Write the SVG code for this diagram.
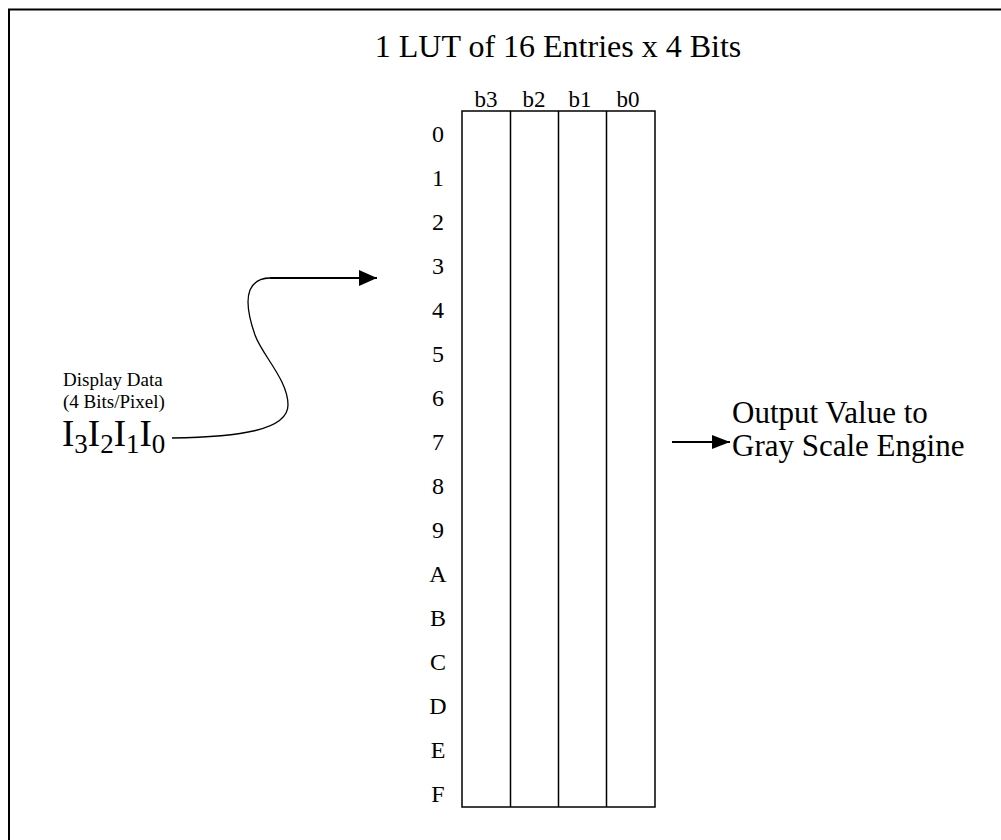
<svg xmlns="http://www.w3.org/2000/svg" width="1001" height="840" viewBox="0 0 1001 840">
<style>
text{font-family:"Liberation Serif","Times New Roman",serif;fill:#000}
.t{font-size:32px}
.o{font-size:31px}
.h{font-size:23px}
.r{font-size:24px;text-anchor:middle}
.s{font-size:19px}
.big{font-size:37px}
.cell{fill:none;stroke:#000;stroke-width:1.5}
.ln{fill:none;stroke:#000}
</style>
<defs>
<marker id="ah" markerWidth="18" markerHeight="16" refX="18" refY="8" orient="auto" markerUnits="userSpaceOnUse" viewBox="0 0 18 16">
<path d="M0,0 L18,8 L0,16 Z" fill="#000"/>
</marker>
<marker id="ah2" markerWidth="18" markerHeight="14" refX="18" refY="7" orient="auto" markerUnits="userSpaceOnUse" viewBox="0 0 18 14">
<path d="M0,0 L18,7 L0,14 Z" fill="#000"/>
</marker>
</defs>
<rect width="1001" height="840" fill="#fff"/>
<path d="M9,840 L9,9.5 L1001,9.5" fill="none" stroke="#000" stroke-width="2"/>
<g id="title"><text class="t" x="558" y="57" text-anchor="middle">1 LUT of 16 Entries x 4 Bits</text></g>
<g id="lut">
<rect class="cell" x="462" y="111" width="193" height="696"/>
<line class="cell" x1="510.5" y1="111" x2="510.5" y2="807"/>
<line class="cell" x1="558.5" y1="111" x2="558.5" y2="807"/>
<line class="cell" x1="606.5" y1="111" x2="606.5" y2="807"/>
<text class="h" x="486" y="107" text-anchor="middle">b3</text>
<text class="h" x="534" y="107" text-anchor="middle">b2</text>
<text class="h" x="580" y="107" text-anchor="middle">b1</text>
<text class="h" x="628" y="107" text-anchor="middle">b0</text>
<text class="r" x="438" y="142">0</text>
<text class="r" x="438" y="186">1</text>
<text class="r" x="438" y="230">2</text>
<text class="r" x="438" y="274">3</text>
<text class="r" x="438" y="318">4</text>
<text class="r" x="438" y="362">5</text>
<text class="r" x="438" y="406">6</text>
<text class="r" x="438" y="450">7</text>
<text class="r" x="438" y="494">8</text>
<text class="r" x="438" y="538">9</text>
<text class="r" x="438" y="582">A</text>
<text class="r" x="438" y="626">B</text>
<text class="r" x="438" y="670">C</text>
<text class="r" x="438" y="714">D</text>
<text class="r" x="438" y="758">E</text>
<text class="r" x="438" y="802">F</text>
</g>
<g id="input">
<text class="s" x="63" y="386">Display Data</text>
<text class="s" x="63" y="408">(4 Bits/Pixel)</text>
<text class="big" x="62" y="446">I<tspan font-size="27" dy="7">3</tspan><tspan dy="-7">I</tspan><tspan font-size="27" dy="7">2</tspan><tspan dy="-7">I</tspan><tspan font-size="27" dy="7">1</tspan><tspan dy="-7">I</tspan><tspan font-size="27" dy="7">0</tspan></text>
</g>
<g id="output">
<text class="o" x="732" y="423">Output Value to</text>
<text class="o" x="732" y="456">Gray Scale Engine</text>
</g>
<g id="connectors">
<path class="ln" stroke-width="1.3" d="M172,438 C240,437 288,430 288,405 C288,380 262,355 255,335 C248,315 246,300 250,290 C254,281 262,278 270,278"/>
<line class="ln" stroke-width="2" x1="270" y1="278" x2="377" y2="278" marker-end="url(#ah)"/>
<line class="ln" stroke-width="2" x1="672" y1="442" x2="730" y2="442" marker-end="url(#ah2)"/>
</g>
</svg>
